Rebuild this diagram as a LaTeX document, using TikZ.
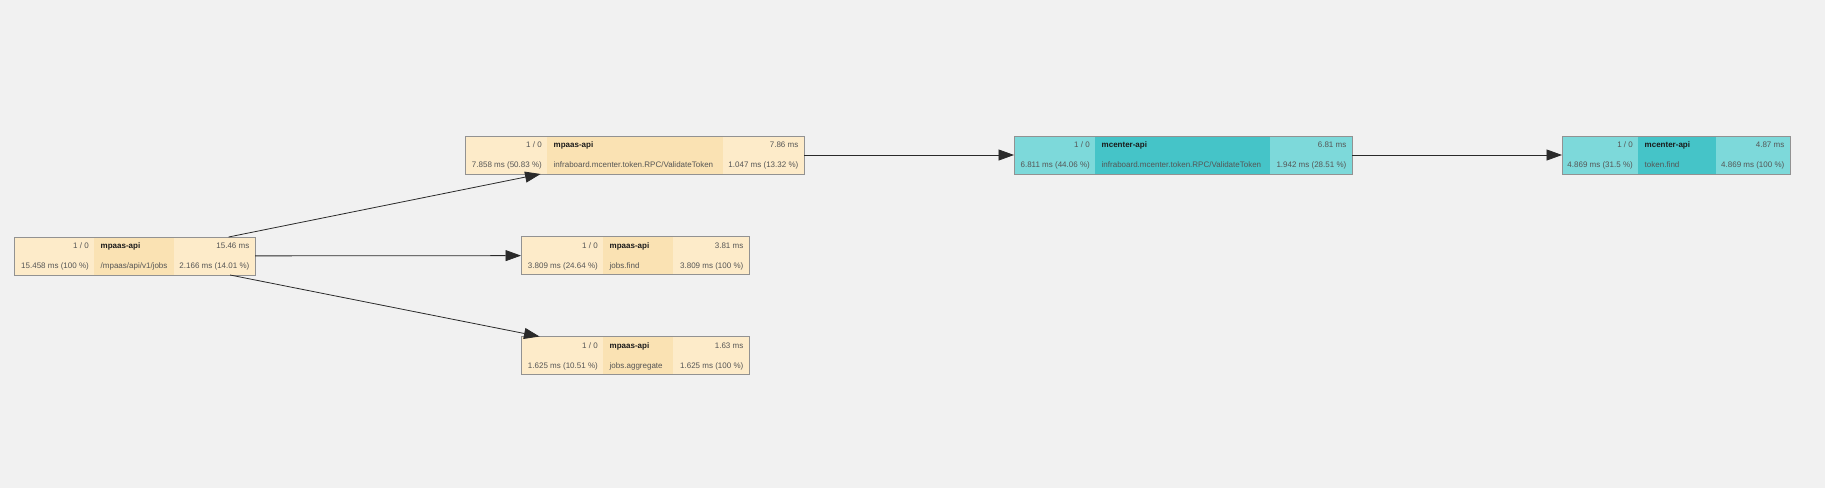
\documentclass[tikz,border=0pt]{standalone}
\usepackage{fontspec}
\setmainfont{Liberation Sans}
\usetikzlibrary{arrows.meta}
\definecolor{bgc}{HTML}{F1F1F1}
\definecolor{beigeL}{HTML}{FDEBC9}
\definecolor{beigeD}{HTML}{FAE2B3}
\definecolor{tealL}{HTML}{7DD9DA}
\definecolor{tealD}{HTML}{45C4C8}
\definecolor{bordc}{HTML}{929292}
\definecolor{txtc}{HTML}{555555}
\definecolor{ttlc}{HTML}{1A1A1A}
\definecolor{edgec}{HTML}{2A2A2A}
\tikzset{
  svc/.style={draw=bordc, line width=1pt, inner sep=0pt, outer sep=0pt, minimum height=38pt},
  txt/.style={inner sep=0pt, text=txtc, font=\fontsize{8}{9.6}\selectfont},
  ttl/.style={inner sep=0pt, text=ttlc, font=\fontsize{8}{9.6}\selectfont\bfseries},
  edge/.style={draw=edgec, line width=0.8pt, -{Triangle[length=15.5pt,width=11pt]}},
}
% name, x, y, width, m1, m2, light, dark
\newcommand\svcbox[8]{%
  \node[svc, fill=#7, minimum width=#4pt, anchor=north west] (#1) at (#2,#3) {};
  \fill[#8] ([xshift=#5pt, yshift=-0.5pt]#1.north west) rectangle ([xshift=#6pt, yshift=0.5pt]#1.south west);
  \coordinate (#1-a) at ([xshift=#5pt]#1.north west);
  \coordinate (#1-b) at ([xshift=#6pt]#1.north west);
}
% name, count, title, duration, left, mid, right
\newcommand\svctext[7]{%
  \node[txt, anchor=base east] (#1-cnt) at ([xshift=-5pt, yshift=-11.6pt]#1-a) {#2};
  \node[ttl, anchor=base west] (#1-ttl) at ([xshift=6.5pt, yshift=-11.6pt]#1-a) {#3};
  \node[txt, anchor=base east] (#1-dur) at ([xshift=-5.5pt, yshift=-11.6pt]#1.north east) {#4};
  \node[txt, anchor=base east] (#1-l) at ([xshift=-5pt, yshift=-31.6pt]#1-a) {#5};
  \node[txt, anchor=base west] (#1-m) at ([xshift=6.5pt, yshift=-31.6pt]#1-a) {#6};
  \node[txt, anchor=base east] (#1-r) at ([xshift=-5.5pt, yshift=-31.6pt]#1.north east) {#7};
}
\begin{document}
\begin{tikzpicture}[x=1pt, y=-1pt]
\fill[bgc] (0,0) rectangle (1825,488);
\useasboundingbox (0,0) rectangle (1825,488);

\svcbox{root}{14}{237}{241}{80}{160}{beigeL}{beigeD}
\svctext{root}{1 / 0}{mpaas-api}{15.46 ms}{15.458 ms (100 \%)}{/mpaas/api/v1/jobs}{2.166 ms (14.01 \%)}

\svcbox{val1}{465}{136}{339}{82}{258}{beigeL}{beigeD}
\svctext{val1}{1 / 0}{mpaas-api}{7.86 ms}{7.858 ms (50.83 \%)}{infraboard.mcenter.token.RPC/ValidateToken}{1.047 ms (13.32 \%)}

\svcbox{find}{521}{236.5}{228}{82}{152}{beigeL}{beigeD}
\svctext{find}{1 / 0}{mpaas-api}{3.81 ms}{3.809 ms (24.64 \%)}{jobs.find}{3.809 ms (100 \%)}

\svcbox{agg}{521}{336.5}{228}{82}{152}{beigeL}{beigeD}
\svctext{agg}{1 / 0}{mpaas-api}{1.63 ms}{1.625 ms (10.51 \%)}{jobs.aggregate}{1.625 ms (100 \%)}

\svcbox{val2}{1014}{136}{338}{81}{256}{tealL}{tealD}
\svctext{val2}{1 / 0}{mcenter-api}{6.81 ms}{6.811 ms (44.06 \%)}{infraboard.mcenter.token.RPC/ValidateToken}{1.942 ms (28.51 \%)}

\svcbox{tok}{1562}{136}{228}{76}{154}{tealL}{tealD}
\svctext{tok}{1 / 0}{mcenter-api}{4.87 ms}{4.869 ms (31.5 \%)}{token.find}{4.869 ms (100 \%)}

\draw[edge] (root) -- (val1);
\draw[edge] (root) -- (find);
\draw[edge] (root) -- (agg);
\draw[edge] (val1) -- (val2);
\draw[edge] (val2) -- (tok);
\end{tikzpicture}
\end{document}
